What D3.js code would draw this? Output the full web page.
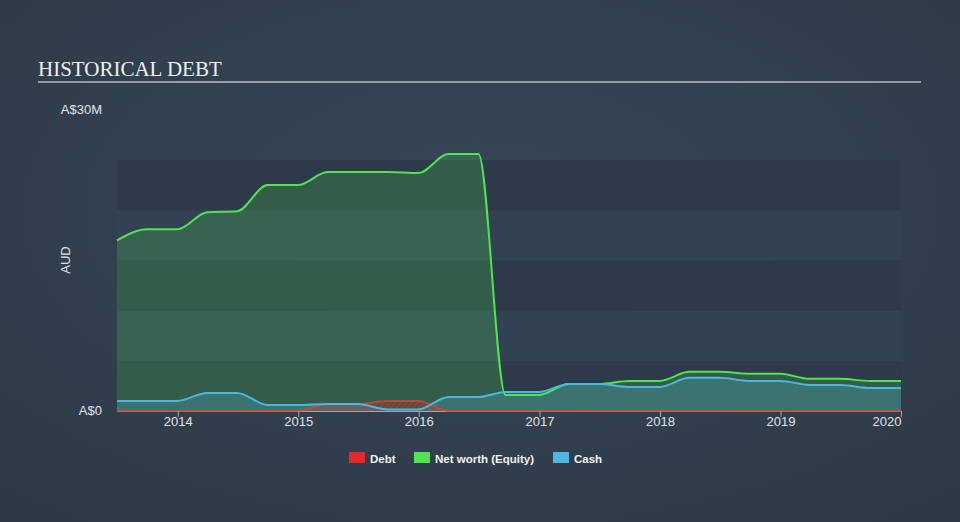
<!DOCTYPE html>
<html><head><meta charset="utf-8">
<script src="https://cdn.jsdelivr.net/npm/d3@7/dist/d3.min.js"></script>
<style>
html,body{margin:0;padding:0;background:#333f4e;}
svg{display:block;}
</style></head>
<body>
<svg id="chart" width="960" height="522"></svg>
<script>
// ---- data (A$ millions) ----
const dates = ["2013-07-01","2013-09-30","2013-12-31","2014-03-31","2014-06-30","2014-09-30","2014-12-31",
  "2015-03-31","2015-06-30","2015-09-30","2015-12-31","2016-03-31","2016-06-30","2016-09-20","2016-12-31",
  "2017-03-31","2017-06-30","2017-09-30","2017-12-31","2018-03-31","2018-06-30","2018-09-30","2018-12-31",
  "2019-03-31","2019-06-30","2019-09-30","2020-01-01"];
const netWorth = [17.0,18.1,18.1,19.8,19.9,22.5,22.5,23.8,23.8,23.8,23.7,25.6,25.6,1.6,1.6,
  2.7,2.7,3.0,3.0,3.9,3.9,3.7,3.7,3.2,3.2,3.0,3.0];
const cash = [1.0,1.0,1.0,1.8,1.8,0.6,0.6,0.7,0.7,0.15,0.15,1.4,1.4,1.9,1.9,
  2.7,2.7,2.4,2.4,3.3,3.3,3.0,3.0,2.6,2.6,2.3,2.3];
const debt = [0,0,0,0,0,0,0,0.7,0.7,1.0,1.0,0,0,0,0,
  0,0,0,0,0,0,0,0,0,0,0,0];
const yearTicks = ["2014","2015","2016","2017","2018","2019","2020"];
const legendLabels = ["Debt","Net worth (Equity)","Cash"];
const legendColors = ["#e8262b","#4ee54e","#4cb8e0"];

const svg = d3.select("#chart");
const W = 960, H = 522;
const parse = d3.timeParse("%Y-%m-%d");
const D = dates.map(parse);

// background gradient
const defs = svg.append("defs");
const rg = defs.append("radialGradient").attr("id","bg").attr("cx","50%").attr("cy","40%").attr("r","75%");
rg.append("stop").attr("offset","0%").attr("stop-color","#364759");
rg.append("stop").attr("offset","100%").attr("stop-color","#2d3946");
svg.append("rect").attr("width",W).attr("height",H).attr("fill","url(#bg)");

const pat = defs.append("pattern").attr("id","hatch").attr("patternUnits","userSpaceOnUse")
  .attr("width",4).attr("height",4).attr("patternTransform","rotate(45)");
pat.append("rect").attr("width",4).attr("height",4).attr("fill","#e8262b").attr("fill-opacity",0.18);
pat.append("line").attr("x1",0).attr("y1",0).attr("x2",0).attr("y2",4)
  .attr("stroke","#e8262b").attr("stroke-width",1.6).attr("stroke-opacity",0.6);

const left = 117, right = 901, bottom = 411;
const x = d3.scaleTime().domain([parse("2013-07-01"), parse("2020-01-01")]).range([left, right]);
const y = d3.scaleLinear().domain([0, 30]).range([bottom, 109.8]);

// bands
const bands = [0,5,10,15,20];
bands.forEach((b,i)=>{
  svg.append("rect").attr("x",left).attr("width",right-left)
    .attr("y",y(b+5)).attr("height",y(b)-y(b+5))
    .attr("fill", i%2===0 ? "#2e3a4a" : "#334253");
});

// title
svg.append("text").attr("x",38).attr("y",76).text("HISTORICAL DEBT")
  .attr("font-family","'Liberation Serif','DejaVu Serif',serif").attr("font-size",21).attr("fill","#eef0f2");
svg.append("line").attr("x1",38).attr("x2",921).attr("y1",82).attr("y2",82)
  .attr("stroke","#b4bcc4").attr("stroke-width",1.5);

const curve = d3.curveMonotoneX;
const mk = arr => D.map((d,i)=>({d, v:arr[i]}));
const area = d3.area().x(p=>x(p.d)).y0(y(0)).y1(p=>y(p.v)).curve(curve);
const line = d3.line().x(p=>x(p.d)).y(p=>y(p.v)).curve(curve);

svg.append("path").attr("d",area(mk(netWorth))).attr("fill","#4ee54e").attr("fill-opacity",0.2);
svg.append("path").attr("d",area(mk(cash))).attr("fill","#4cb8e0").attr("fill-opacity",0.25);
svg.append("path").attr("d",area(mk(debt))).attr("fill","url(#hatch)");

// axis baseline
svg.append("line").attr("x1",left).attr("x2",right).attr("y1",bottom+0.5).attr("y2",bottom+0.5)
  .attr("stroke","#a0a8b4").attr("stroke-width",1);

svg.append("path").attr("d",line(mk(netWorth))).attr("fill","none").attr("stroke","#4ee54e").attr("stroke-width",2);
svg.append("path").attr("d",line(mk(debt))).attr("fill","none").attr("stroke","#e0452f").attr("stroke-width",2).attr("stroke-opacity",0.75);
svg.append("path").attr("d",line(mk(cash))).attr("fill","none").attr("stroke","#4cb8e0").attr("stroke-width",2);

// x axis
const xa = svg.append("g").attr("transform",`translate(0,${bottom})`)
  .call(d3.axisBottom(x).tickValues(yearTicks.map(t=>d3.timeParse("%Y")(t))).tickFormat(d3.timeFormat("%Y")).tickSize(6).tickSizeOuter(0));
xa.select(".domain").remove();
xa.selectAll(".tick line").attr("stroke","#a0a8b4");
xa.selectAll(".tick text").attr("fill","#e0e3e6").attr("font-size",13)
  .attr("font-family","'Liberation Sans',Arial,sans-serif").attr("dy","0.6em").attr("y",7)
  .attr("text-anchor",(d,i,n)=> i===n.length-1 ? "end" : "middle");

// y labels
const yl = [{v:30,t:"A$30M"},{v:0,t:"A$0"}];
svg.selectAll(".yl").data(yl).enter().append("text")
  .attr("x",102).attr("y",d=>y(d.v)+4).attr("text-anchor","end").text(d=>d.t)
  .attr("fill","#e0e3e6").attr("font-size",13).attr("font-family","'Liberation Sans',Arial,sans-serif");
svg.append("text").attr("transform","translate(70,260) rotate(-90)").attr("text-anchor","middle").text("AUD")
  .attr("fill","#e0e3e6").attr("font-size",13).attr("font-family","'Liberation Sans',Arial,sans-serif");

// legend
const lx = [349, 414, 553];
legendLabels.forEach((l,i)=>{
  svg.append("rect").attr("x",lx[i]).attr("y",452).attr("width",16).attr("height",11).attr("fill",legendColors[i]);
  svg.append("text").attr("x",lx[i]+21).attr("y",462.5).text(l).attr("fill","#f0f2f4")
    .attr("font-size",11.5).attr("font-weight","bold").attr("font-family","'Liberation Sans',Arial,sans-serif");
});
</script>
</body></html>
